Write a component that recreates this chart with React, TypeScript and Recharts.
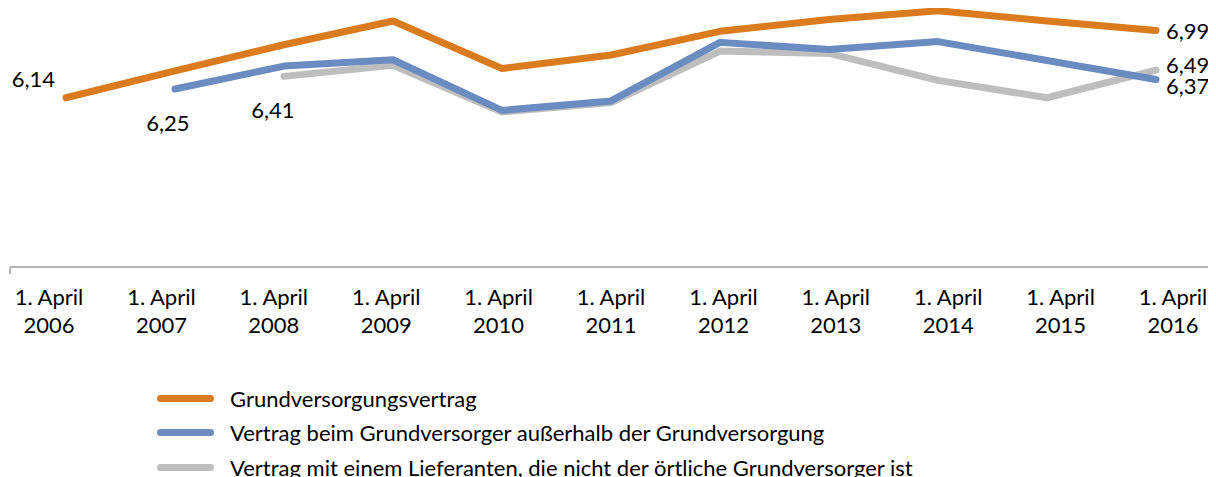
import { LineChart, Line, XAxis, YAxis, LabelList } from 'recharts';

const years = ['2006', '2007', '2008', '2009', '2010', '2011', '2012', '2013', '2014', '2015', '2016'];
const grundversorgung = [6.14, 6.48, 6.81, 7.11, 6.51, 6.68, 6.98, 7.13, 7.24, 7.11, 6.99];
const ausserhalb = [null, 6.25, 6.54, 6.62, 5.98, 6.10, 6.84, 6.75, 6.85, 6.61, 6.37];
const lieferant = [null, null, 6.41, 6.55, 5.96, 6.08, 6.73, 6.70, 6.36, 6.14, 6.49];

const data = years.map((y, i) => ({
  label: y,
  gv: grundversorgung[i],
  au: ausserhalb[i],
  li: lieferant[i],
}));

const ORANGE = '#DA7B1E';
const BLUE = '#6B8CC0';
const GRAY = '#BEBEBE';
const FONT = 'Lato, sans-serif';

const W = 1216;
const M = { top: 6, right: 3, left: 10, bottom: 33 };
const PAD_L = 56;
const PAD_R = 57;

const fmt = (v: number) => v.toFixed(2).replace('.', ',');

// label offsets for first / last point of each series
const labelPos: Record<string, Record<number, { dx: number; dy: number; anchor: string }>> = {
  gv: { 0: { dx: -11, dy: -19, anchor: 'end' }, 10: { dx: 10, dy: 0, anchor: 'start' } },
  au: { 1: { dx: -7, dy: 33, anchor: 'middle' }, 10: { dx: 10, dy: 6, anchor: 'start' } },
  li: { 2: { dx: -11, dy: 33, anchor: 'middle' }, 10: { dx: 10, dy: -6, anchor: 'start' } },
};

const makeLabel = (key: string) => (props: any) => {
  const { x, y, value, index } = props;
  const pos = labelPos[key][index];
  if (!pos || value == null) return null;
  return (
    <text
      x={x + pos.dx}
      y={y + pos.dy}
      textAnchor={pos.anchor}
      dominantBaseline="central"
      fontFamily={FONT}
      fontSize={22}
      fill="#000"
    >
      {fmt(value)}
    </text>
  );
};

const Tick = (props: any) => {
  const { x, y, payload, index } = props;
  const cx = x + (index - 5) * 3.4;
  return (
    <g>
      {index === 0 && <line x1={x - PAD_L} x2={x - PAD_L} y1={y - 8} y2={y - 1} stroke="#b4b4b4" strokeWidth={2} />}
      {index === years.length - 1 && (
        <line x1={x + PAD_R} x2={x + PAD_R} y1={y - 8} y2={y - 1} stroke="#b4b4b4" strokeWidth={2} />
      )}
      <text x={cx} y={y + 30} textAnchor="middle" fontFamily={FONT} fontSize={22} fill="#000">
        1. April
      </text>
      <text x={cx} y={y + 58} textAnchor="middle" fontFamily={FONT} fontSize={22} fill="#000">
        {payload.value}
      </text>
    </g>
  );
};

const legendItems = [
  { name: 'Grundversorgungsvertrag', color: ORANGE },
  { name: 'Vertrag beim Grundversorger außerhalb der Grundversorgung', color: BLUE },
  { name: 'Vertrag mit einem Lieferanten, die nicht der örtliche Grundversorger ist', color: GRAY },
];

export default function App() {
  return (
    <div style={{ position: 'relative', left: -8, top: -8, width: W, height: 477, background: '#fff', fontFamily: FONT }}>
      <LineChart width={W} height={380} data={data} margin={M}>
        <XAxis
          dataKey="label"
          height={80}
          tickLine={false}
          axisLine={{ stroke: '#b4b4b4', strokeWidth: 2 }}
          tick={<Tick />}
          interval={0}
          padding={{ left: PAD_L, right: PAD_R }}
        />
        <YAxis hide domain={[4, 7.3]} />
        <Line dataKey="li" stroke={GRAY} strokeWidth={7} dot={false} strokeLinecap="round" strokeLinejoin="round" isAnimationActive={false}>
          <LabelList dataKey="li" content={makeLabel('li')} />
        </Line>
        <Line dataKey="au" stroke={BLUE} strokeWidth={7} dot={false} strokeLinecap="round" strokeLinejoin="round" isAnimationActive={false}>
          <LabelList dataKey="au" content={makeLabel('au')} />
        </Line>
        <Line dataKey="gv" stroke={ORANGE} strokeWidth={7} dot={false} strokeLinecap="round" strokeLinejoin="round" isAnimationActive={false}>
          <LabelList dataKey="gv" content={makeLabel('gv')} />
        </Line>
      </LineChart>
      <div style={{ position: 'absolute', left: 157, top: 381 }}>
        {legendItems.map((it) => (
          <div key={it.name} style={{ display: 'flex', alignItems: 'center', height: 34.5 }}>
            <span style={{ display: 'inline-block', width: 57, height: 7, borderRadius: 4, background: it.color, marginRight: 16 }} />
            <span style={{ fontSize: 22, color: '#000', whiteSpace: 'nowrap' }}>{it.name}</span>
          </div>
        ))}
      </div>
    </div>
  );
}
